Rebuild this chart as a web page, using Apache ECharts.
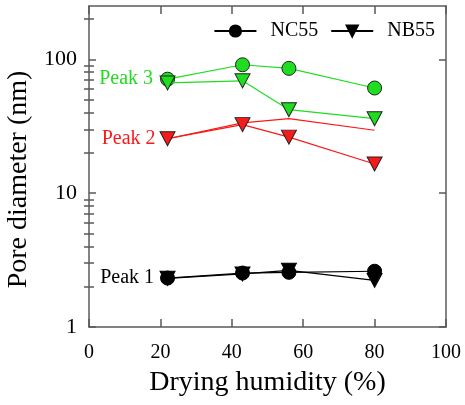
<!DOCTYPE html>
<html>
<head>
<meta charset="utf-8">
<script src="https://cdn.jsdelivr.net/npm/echarts@6/dist/echarts.min.js"></script>
<style>
  html, body { margin: 0; padding: 0; background: #fff; }
  #chart { width: 465px; height: 405px; }
</style>
</head>
<body>
<div id="chart"></div>
<script>
// Drying humidity (%) at which each sample was dried
const humidity = [22, 43, 56, 80];

// Pore diameter (nm) for each peak of the pore size distribution
const nc55Peak1 = [2.32, 2.53, 2.56, 2.61];
const nb55Peak1 = [2.31, 2.49, 2.65, 2.23];
const nc55Peak2 = [25.5, 33.5, 36, 29.5];
const nb55Peak2 = [25.5, 32.5, 26.2, 16.5];
const nc55Peak3 = [71, 91, 85.5, 61];
const nb55Peak3 = [66.6, 69, 42, 36];

// Axis ticks
const xTicks = [0, 20, 40, 60, 80, 100];
const yMajor = [1, 10, 100];
const yMinor = [2, 3, 4, 5, 6, 7, 8, 9, 20, 30, 40, 50, 60, 70, 80, 90, 200];

const GREEN = '#1fdd1f';
const RED = '#f81a1a';
const AXIS = '#5a5a5a';
const FONT = 'Liberation Serif';

const pairs = vals => humidity.map((h, i) => [h, vals[i]]);

function peakLabel(text, color, distance) {
  return {
    show: true,
    position: 'left',
    distance: distance,
    formatter: text,
    color: color,
    fontFamily: FONT,
    fontSize: 20
  };
}

function withLabel(vals, label) {
  const d = pairs(vals).map(p => ({ value: p }));
  d[0].label = label;
  return d;
}

const circle = { symbol: 'circle', symbolSize: 14 };
const downTri = { symbol: 'triangle', symbolSize: [15, 14], symbolRotate: 180 };

const baseY = {
  type: 'log',
  logBase: 10,
  min: 1,
  max: 250,
  splitLine: { show: false },
  minorSplitLine: { show: false }
};

const option = {
  animation: false,
  backgroundColor: '#fff',
  grid: { left: 89, right: 19, top: 6, bottom: 78, containLabel: false, outerBoundsMode: 'none' },
  legend: {
    top: 16,
    right: 25,
    data: ['NC55', 'NB55'],
    itemWidth: 42,
    itemHeight: 14,
    itemGap: 12,
    textStyle: { fontFamily: FONT, fontSize: 20, color: '#000', padding: [0, 0, 0, 9] }
  },
  xAxis: [
    {
      type: 'value',
      min: 0,
      max: 100,
      interval: 20,
      position: 'bottom',
      name: 'Drying humidity (%)',
      nameLocation: 'middle',
      nameGap: 42,
      nameTextStyle: { fontFamily: FONT, fontSize: 28, color: '#000' },
      axisLine: { show: true, lineStyle: { color: AXIS, width: 1.5 } },
      axisTick: { show: true, inside: true, length: 8, lineStyle: { color: AXIS, width: 1.5 } },
      axisLabel: {
        customValues: xTicks,
        margin: 16,
        fontFamily: FONT,
        fontSize: 20,
        color: '#000'
      },
      splitLine: { show: false }
    },
    {
      type: 'value',
      min: 0,
      max: 100,
      interval: 20,
      position: 'top',
      axisLine: { show: true, onZero: false, lineStyle: { color: AXIS, width: 1.5 } },
      axisTick: { show: true, inside: true, length: 8, lineStyle: { color: AXIS, width: 1.5 } },
      axisLabel: { show: false },
      splitLine: { show: false }
    }
  ],
  yAxis: [
    Object.assign({}, baseY, {
      position: 'left',
      name: 'Pore diameter (nm)',
      nameLocation: 'middle',
      nameGap: 50,
      nameTextStyle: { fontFamily: FONT, fontSize: 28, color: '#000', padding: [0, 26, 0, 0] },
      axisLine: { show: true, onZero: false, lineStyle: { color: AXIS, width: 1.5 } },
      axisTick: { show: true, inside: true, length: 7, customValues: yMajor, lineStyle: { color: AXIS, width: 1.5 } },
      axisLabel: { customValues: yMajor, margin: 12, fontFamily: FONT, fontSize: 22, color: '#000' }
    }),
    Object.assign({}, baseY, {
      position: 'left',
      axisLine: { show: false },
      axisTick: { show: true, inside: true, length: 5, customValues: yMinor, lineStyle: { color: AXIS, width: 1.5 } },
      axisLabel: { show: false }
    }),
    Object.assign({}, baseY, {
      position: 'right',
      axisLine: { show: true, onZero: false, lineStyle: { color: AXIS, width: 1.5 } },
      axisTick: { show: true, inside: true, length: 7, customValues: yMajor, lineStyle: { color: AXIS, width: 1.5 } },
      axisLabel: { show: false }
    }),
    Object.assign({}, baseY, {
      position: 'right',
      axisLine: { show: false },
      axisTick: { show: true, inside: true, length: 5, customValues: yMinor, lineStyle: { color: AXIS, width: 1.5 } },
      axisLabel: { show: false }
    })
  ],
  series: [
    Object.assign({
      name: 'NC55',
      type: 'line',
      data: withLabel(nc55Peak1, peakLabel('Peak 1', '#000', 6)),
      lineStyle: { color: '#000', width: 1.2 },
      itemStyle: { color: '#000', borderColor: '#000', borderWidth: 1 },
      z: 3
    }, circle),
    Object.assign({
      name: 'NB55',
      type: 'line',
      data: pairs(nb55Peak1),
      lineStyle: { color: '#000', width: 1.2 },
      itemStyle: { color: '#000', borderColor: '#000', borderWidth: 1 },
      z: 3
    }, downTri),
    {
      name: 'NC55 peak 2',
      type: 'line',
      data: pairs(nc55Peak2),
      showSymbol: false,
      symbol: 'none',
      lineStyle: { color: RED, width: 1.2 },
      itemStyle: { color: RED },
      z: 2
    },
    Object.assign({
      name: 'NB55 peak 2',
      type: 'line',
      data: withLabel(nb55Peak2, peakLabel('Peak 2', RED, 4)),
      lineStyle: { color: RED, width: 1.2 },
      itemStyle: { color: RED, borderColor: '#222', borderWidth: 1 },
      z: 3
    }, downTri),
    Object.assign({
      name: 'NC55 peak 3',
      type: 'line',
      data: withLabel(nc55Peak3, peakLabel('Peak 3', GREEN, 7)),
      lineStyle: { color: GREEN, width: 1.2 },
      itemStyle: { color: GREEN, borderColor: '#222', borderWidth: 1 },
      z: 3
    }, circle),
    Object.assign({
      name: 'NB55 peak 3',
      type: 'line',
      data: pairs(nb55Peak3),
      lineStyle: { color: GREEN, width: 1.2 },
      itemStyle: { color: GREEN, borderColor: '#222', borderWidth: 1 },
      z: 4
    }, downTri)
  ]
};

const chart = echarts.init(document.getElementById('chart'), null, { renderer: 'canvas' });
chart.setOption(option);
</script>
</body>
</html>
